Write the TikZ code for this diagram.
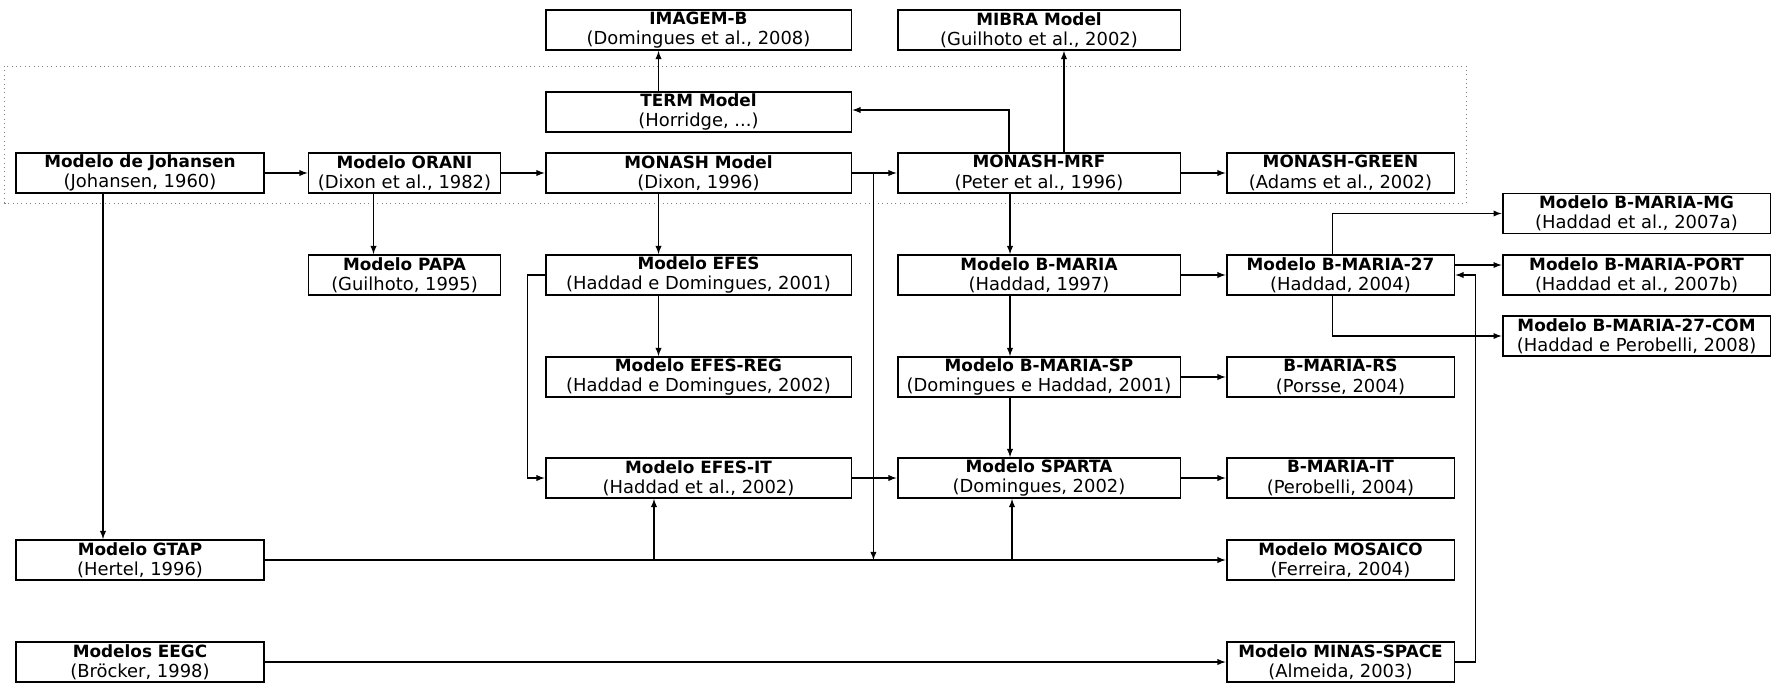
\documentclass[tikz,border=0pt]{standalone}
\usepackage{fontspec}
\setmainfont{DejaVu Sans}
\usepackage{tikz}

\newcommand{\mtitle}[1]{{\fontsize{9.6}{11.6}\selectfont\bfseries #1}}

\begin{document}
\begin{tikzpicture}[x=0.02cm, y=-0.02cm, >=latex,
  box/.style={rectangle, draw, line width=1.1pt, fill=white, align=center, minimum height=0.8cm, inner xsep=1pt, inner ysep=0pt, font=\fontsize{10.2}{11.6}\selectfont},
  wa/.style={box, minimum width=4.95cm},
  wb/.style={box, minimum width=3.84cm},
  wc/.style={box, minimum width=6.12cm},
  wd/.style={box, minimum width=5.66cm},
  we/.style={box, minimum width=4.56cm},
  wf/.style={box, minimum width=5.36cm},
  link/.style={->, line width=0.6pt}]
\useasboundingbox (0,0) rectangle (1777,686);
% main row
\node[wa] (johansen) at (140,173) {\mtitle{Modelo de Johansen}\\(Johansen, 1960)};
\node[wb] (orani) at (404.5,173) {\mtitle{Modelo ORANI}\\(Dixon et al., 1982)};
\node[wc] (monash) at (698.5,173) {\mtitle{MONASH Model}\\(Dixon, 1996)};
\node[wd] (mrf) at (1039,173) {\mtitle{MONASH-MRF}\\(Peter et al., 1996)};
\node[we] (green) at (1340.5,173) {\mtitle{MONASH-GREEN}\\(Adams et al., 2002)};
% above
\node[wc] (term) at (698.5,112) {\mtitle{TERM Model}\\(Horridge, ...)};
\node[wc] (imagem) at (698.5,30) {\mtitle{IMAGEM-B}\\(Domingues et al., 2008)};
\node[wd] (mibra) at (1039,30) {\mtitle{MIBRA Model}\\(Guilhoto et al., 2002)};
% below
\node[wb] (papa) at (404.5,275) {\mtitle{Modelo PAPA}\\(Guilhoto, 1995)};
\node[wc] (efes) at (698.5,275) {\mtitle{Modelo EFES}\\(Haddad e Domingues, 2001)};
\node[wc] (efesreg) at (698.5,377) {\mtitle{Modelo EFES-REG}\\(Haddad e Domingues, 2002)};
\node[wc] (efesit) at (698.5,478) {\mtitle{Modelo EFES-IT}\\(Haddad et al., 2002)};
\node[wd] (bmaria) at (1039,275) {\mtitle{Modelo B-MARIA}\\(Haddad, 1997)};
\node[wd] (bmsp) at (1039,377) {\mtitle{Modelo B-MARIA-SP}\\(Domingues e Haddad, 2001)};
\node[wd] (sparta) at (1039,478) {\mtitle{Modelo SPARTA}\\(Domingues, 2002)};
\node[we] (bm27) at (1340.5,275) {\mtitle{Modelo B-MARIA-27}\\(Haddad, 2004)};
\node[we] (bmrs) at (1340.5,377) {\mtitle{B-MARIA-RS}\\(Porsse, 2004)};
\node[we] (bmit) at (1340.5,478) {\mtitle{B-MARIA-IT}\\(Perobelli, 2004)};
\node[we] (mosaico) at (1340.5,560) {\mtitle{Modelo MOSAICO}\\(Ferreira, 2004)};
\node[we] (minas) at (1340.5,662) {\mtitle{Modelo MINAS-SPACE}\\(Almeida, 2003)};
\node[wf] (bmmg) at (1636.5,213.5) {\mtitle{Modelo B-MARIA-MG}\\(Haddad et al., 2007a)};
\node[wf] (bmport) at (1636.5,275) {\mtitle{Modelo B-MARIA-PORT}\\(Haddad et al., 2007b)};
\node[wf] (bmcom) at (1636.5,336) {\mtitle{Modelo B-MARIA-27-COM}\\(Haddad e Perobelli, 2008)};
\node[wa] (gtap) at (140,560) {\mtitle{Modelo GTAP}\\(Hertel, 1996)};
\node[wa] (eegc) at (140,662) {\mtitle{Modelos EEGC}\\(Br\"ocker, 1998)};
% dotted frame round the MONASH family
\draw[dotted, gray, line width=0.5pt] (4.6,66) rectangle (1466,203);
% links
\draw[link] (johansen) -- (orani);
\draw[link] (orani) -- (monash);
\draw[link] (monash) -- (mrf);
\draw[link] (mrf) -- (green);
\draw[link] ([xshift=-0.8cm]term.north) -- ([xshift=-0.8cm]imagem.south);
\draw[link] ([xshift=-0.6cm]mrf.north) |- ([yshift=0.04cm]term.east);
\draw[link] ([xshift=0.5cm]mrf.north) -- ([xshift=0.5cm]mibra.south);
\draw[link] ([xshift=-0.62cm]orani.south) -- ([xshift=-0.62cm]papa.north);
\draw[link] ([xshift=-0.8cm]monash.south) -- ([xshift=-0.8cm]efes.north);
\draw[link] ([xshift=-0.8cm]efes.south) -- ([xshift=-0.8cm]efesreg.north);
\draw[link] (efes.west) -- ++(-0.34cm,0) |- (efesit.west);
\draw[link] (efesit) -- (sparta);
\draw[link] ([xshift=0.42cm]monash.east) -- ([xshift=0.42cm]monash.east |- gtap.east);
\draw[link] ([xshift=-0.58cm]mrf.south) -- ([xshift=-0.58cm]bmaria.north);
\draw[link] ([xshift=-0.58cm]bmaria.south) -- ([xshift=-0.58cm]bmsp.north);
\draw[link] ([xshift=-0.58cm]bmsp.south) -- ([xshift=-0.58cm]sparta.north);
\draw[link] (bmaria) -- (bm27);
\draw[link] (bmsp) -- (bmrs);
\draw[link] (sparta) -- (bmit);
\draw[link] ([xshift=-0.16cm]bm27.north) |- (bmmg.west);
\draw[link] ([xshift=-0.16cm]bm27.south) |- (bmcom.west);
\draw[link] ([yshift=0.2cm]bm27.east) -- ([yshift=0.2cm]bm27.east -| bmport.west);
\draw[link] (minas.east) -- ++(0.4cm,0) |- (bm27.east);
\draw[link] ([xshift=-0.74cm]johansen.south) -- ([xshift=-0.74cm]gtap.north);
\draw[link] (gtap) -- (mosaico);
\draw[link] ([xshift=-0.89cm]efesit.south |- gtap.east) -- ([xshift=-0.89cm]efesit.south);
\draw[link] ([xshift=-0.54cm]sparta.south |- gtap.east) -- ([xshift=-0.54cm]sparta.south);
\draw[link] (eegc) -- (minas);
\end{tikzpicture}
\end{document}
